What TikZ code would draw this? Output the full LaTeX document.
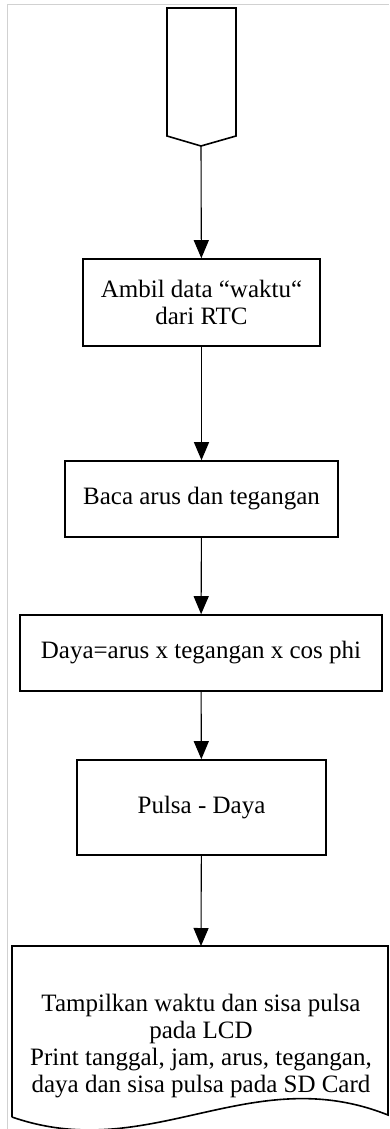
\documentclass[tikz,border=0pt]{standalone}
\usepackage{fontspec}
\setmainfont{Liberation Serif}
\usepackage{tikz}
\usetikzlibrary{arrows.meta}

\tikzset{
  proses/.style={draw, line width=1.6pt, align=center, inner sep=0pt,
    font=\fontsize{25}{27}\selectfont},
  alur/.style={line width=1.1pt, -{Triangle[length=18pt,width=15pt]}},
  bingkai/.style={draw=black!18, line width=1pt}
}

\begin{document}
\begin{tikzpicture}[x=1pt, y=-1pt]
        \useasboundingbox (0,0) rectangle (389,1129);
        \draw[bingkai] (7,1129) -- (7,5) -- (389,5);

        % konektor awal
        \draw[line width=1.6pt, line join=miter] (167,8) -- (236,8) -- (236,136) -- (201,146) -- (167,136) -- cycle;
        \coordinate (mulai) at (201,146);

        \node[proses, minimum width=237pt, minimum height=87pt] (rtc) at (201.5,302.5) {Ambil data “waktu“\\dari RTC};
        \node[proses, minimum width=273pt, minimum height=76pt] (baca) at (201.5,499) {Baca arus dan tegangan};
        \node[proses, minimum width=362pt, minimum height=76pt] (daya) at (201,653) {Daya=arus x tegangan x cos phi};
        \node[proses, minimum width=249pt, minimum height=95pt] (pulsa) at (201.5,807.5) {Pulsa - Daya};

        % dokumen keluaran
        \draw[line width=1.6pt] (12,1117) -- (12,946) -- (388,946) -- (388,1115)
              .. controls (250,1060) and (150,1165) .. (12,1117);
        \coordinate (tampil) at (201,946);
        \node[proses, draw=none] (teks) at (201,1046) {Tampilkan waktu dan sisa pulsa\\pada LCD\\Print tanggal, jam, arus, tegangan,\\daya dan sisa pulsa pada SD Card};

        \draw[alur] (mulai) -- (rtc);
        \draw[alur] (rtc) -- (baca);
        \draw[alur] (baca) -- (daya);
        \draw[alur] (daya) -- (pulsa);
        \draw[alur] (pulsa) -- (tampil);
\end{tikzpicture}
\end{document}
